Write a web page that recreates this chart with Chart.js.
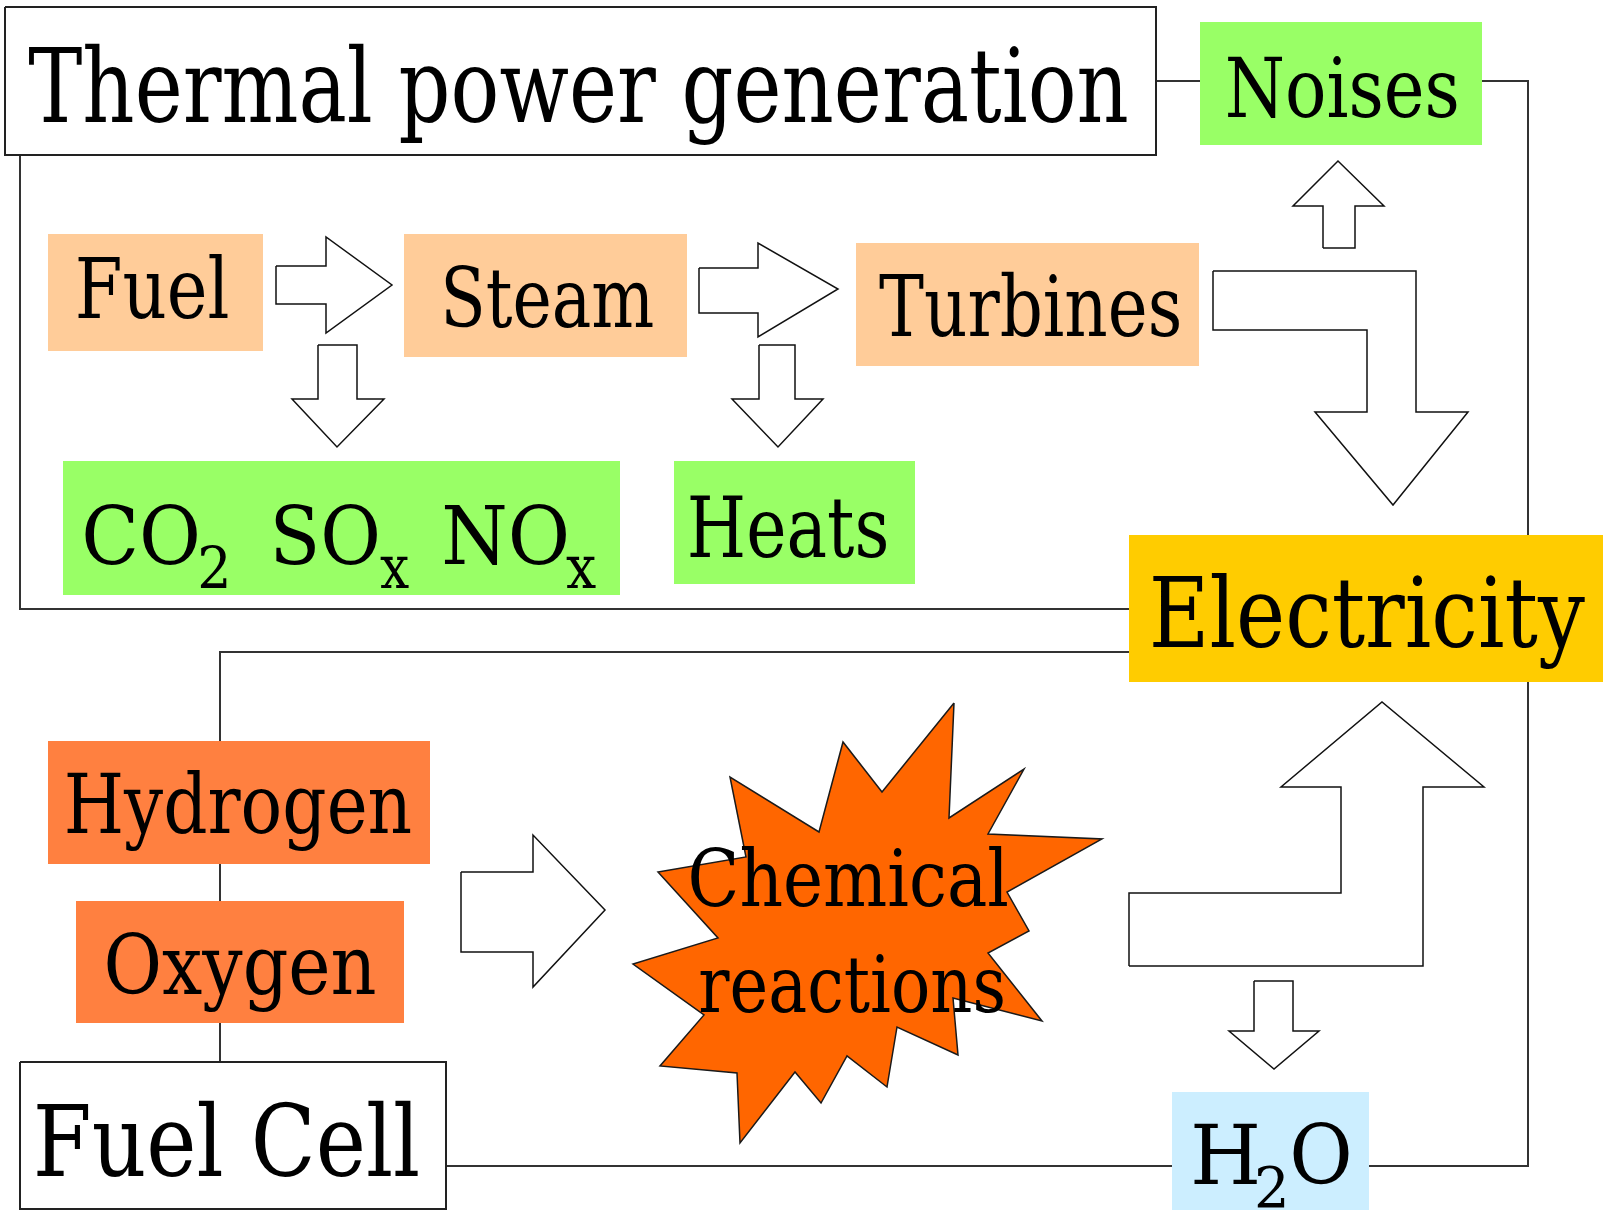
<!DOCTYPE html>
<html>
<head>
<meta charset="utf-8">
<script src="https://cdn.jsdelivr.net/npm/chart.js@4.4.1/dist/chart.umd.min.js"></script>
<style>
  html, body { margin: 0; padding: 0; background: #fff; overflow: hidden; }
  canvas { display: block; }
</style>
</head>
<body>
<canvas id="diagram" width="1603" height="1210"></canvas>
<script>
// diagram units = one pixel of the original picture (x to the right, y downwards)

// boxes
const boxNames = ["Thermal power generation", "Noises", "Fuel", "Steam", "Turbines", "CO2 SOx NOx", "Heats",
  "Electricity", "Hydrogen", "Oxygen", "Fuel Cell", "H2O"];
const boxX0 = [5, 1200, 48, 404, 856, 63, 674, 1129, 48, 76, 20, 1172];
const boxX1 = [1156, 1482, 263, 687, 1199, 620, 915, 1603, 430, 404, 446, 1369];
const boxY0 = [7, 22, 234, 234, 243, 461, 461, 535, 741, 901, 1062, 1092];
const boxY1 = [155, 145, 351, 357, 366, 595, 584, 682, 864, 1023, 1209, 1212];
const boxFill = ["#ffffff", "#99ff66", "#ffcc99", "#ffcc99", "#ffcc99", "#99ff66", "#99ff66",
  "#ffcc00", "#ff8040", "#ff8040", "#ffffff", "#cceeff"];
const boxOutlined = [true, false, false, false, false, false, false, false, false, false, true, false];

// connecting lines
const connectors = [
  [[20, 155], [20, 609], [1130, 609]],
  [[1156, 81], [1200, 81]],
  [[1482, 81], [1528, 81], [1528, 536]],
  [[1129, 652], [220, 652], [220, 1062]],
  [[446, 1166], [1528, 1166], [1528, 682]]
];

// block arrows
const arrows = [
  [[276, 266], [326, 266], [326, 237], [392, 285], [326, 333], [326, 304], [276, 304]],
  [[699, 268], [758, 268], [758, 243], [838, 289], [758, 337], [758, 313], [699, 313]],
  [[318, 345], [357, 345], [357, 399], [384, 399], [337, 447], [292, 399], [318, 399]],
  [[759, 345], [795, 345], [795, 399], [823, 399], [778, 447], [732, 399], [759, 399]],
  [[1323, 248], [1355, 248], [1355, 206], [1384, 206], [1338, 161], [1293, 206], [1323, 206]],
  [[1213, 271], [1416, 271], [1416, 412], [1468, 412], [1393, 505], [1315, 412], [1367, 412], [1367, 330], [1213, 330]],
  [[461, 872], [533, 872], [533, 835], [605, 910], [533, 987], [533, 952], [461, 952]],
  [[1129, 966], [1423, 966], [1423, 787], [1484, 787], [1382, 702], [1281, 787], [1341, 787], [1341, 893], [1129, 893]],
  [[1254, 981], [1293, 981], [1293, 1031], [1319, 1031], [1274, 1069], [1229, 1031], [1254, 1031]]
];

// explosion behind "Chemical reactions"
const starPoints = [[954, 703], [949, 818], [1024, 769], [988, 834], [1102, 839], [1007, 892], [1029, 931],
  [988, 953], [1042, 1021], [953, 998], [958, 1055], [897, 1027], [887, 1087], [847, 1056], [821, 1103],
  [795, 1072], [740, 1143], [737, 1073], [660, 1066], [704, 1015], [633, 964], [718, 938], [658, 872],
  [746, 857], [730, 777], [819, 832], [843, 742], [882, 792]];

// texts: ink left, ink right, baseline, font size (Times-style size)
const labelText = ["Thermal power generation", "Noises", "Fuel", "Steam", "Turbines",
  "CO", "2", "SO", "x", "NO", "x", "Heats", "Electricity", "Hydrogen", "Oxygen", "Fuel Cell",
  "Chemical", "reactions", "H", "2", "O"];
const labelLeft = [29, 1228, 78, 445, 879, 85, 200, 275, 380, 444, 566, 690, 1153, 67, 107, 37, 691, 700, 1194, 1257, 1293];
const labelRight = [1127, 1457, 228, 653, 1179, 197, 227, 377, 409, 566, 596, 886, 1585, 411, 375, 418, 1007, 1003, 1257, 1285, 1349];
const labelBase = [122, 117, 318, 327, 336, 564, 588, 564, 588, 564, 588, 557, 647, 833, 994, 1176, 906, 1012, 1184, 1207, 1184];
const labelSize = [114, 92, 93, 92, 93, 90, 64, 90, 66, 90, 66, 93, 108, 92, 91, 110, 88, 88, 92, 62, 92];

// only DejaVu Serif is around; its capitals are taller than Times, so shrink a bit
const FONT_FAMILY = '"DejaVu Serif", serif';
const CAP_FIX = 0.9;

function closed(pts) {
  const out = pts.map(p => ({ x: p[0], y: p[1] }));
  out.push({ x: pts[0][0], y: pts[0][1] });
  return out;
}

const layers = [];

connectors.forEach(line => {
  layers.push({
    data: line.map(p => ({ x: p[0], y: p[1] })),
    borderColor: "#333333",
    borderWidth: 2,
    fill: false
  });
});

boxNames.forEach((name, i) => {
  layers.push({
    label: name,
    data: closed([[boxX0[i], boxY0[i]], [boxX1[i], boxY0[i]], [boxX1[i], boxY1[i]], [boxX0[i], boxY1[i]]]),
    backgroundColor: boxFill[i],
    borderColor: boxOutlined[i] ? "#222222" : boxFill[i],
    borderWidth: boxOutlined[i] ? 2 : 0,
    fill: "shape"
  });
});

arrows.forEach(a => {
  layers.push({
    data: closed(a),
    backgroundColor: "#ffffff",
    borderColor: "#111111",
    borderWidth: 1.5,
    fill: "shape"
  });
});

layers.push({
  label: "Chemical reactions",
  data: closed(starPoints),
  backgroundColor: "#ff6600",
  borderColor: "#1a1a1a",
  borderWidth: 1.5,
  fill: "shape"
});

// first layer painted first
layers.forEach((ds, i) => {
  ds.order = layers.length - i;
  ds.pointRadius = 0;
  ds.tension = 0;
  ds.clip = false;
  ds.borderJoinStyle = "miter";
});

// texts are drawn on top of everything
const labelPlugin = {
  id: "labels",
  afterDatasetsDraw(chart) {
    const ctx = chart.ctx;
    const xs = chart.scales.x, ys = chart.scales.y;
    ctx.save();
    ctx.fillStyle = "#000000";
    ctx.textBaseline = "alphabetic";
    ctx.textAlign = "left";
    labelText.forEach((t, i) => {
      ctx.font = Math.round(labelSize[i] * CAP_FIX) + "px " + FONT_FAMILY;
      const m = ctx.measureText(t);
      const ink = m.actualBoundingBoxLeft + m.actualBoundingBoxRight;
      const x0 = xs.getPixelForValue(labelLeft[i]);
      const x1 = xs.getPixelForValue(labelRight[i]);
      const sx = (x1 - x0) / ink;
      ctx.save();
      ctx.translate(x0 + m.actualBoundingBoxLeft * sx, ys.getPixelForValue(labelBase[i]));
      ctx.scale(sx, 1);
      ctx.fillText(t, 0, 0);
      ctx.restore();
    });
    ctx.restore();
  }
};

new Chart(document.getElementById("diagram"), {
  type: "line",
  data: { datasets: layers },
  options: {
    responsive: false,
    devicePixelRatio: 1,
    animation: false,
    layout: { padding: 0 },
    plugins: { legend: { display: false }, tooltip: { enabled: false } },
    scales: {
      x: { type: "linear", min: 0, max: 1603, display: false },
      y: { type: "linear", min: 0, max: 1210, reverse: true, display: false }
    }
  },
  plugins: [labelPlugin]
});
</script>
</body>
</html>
